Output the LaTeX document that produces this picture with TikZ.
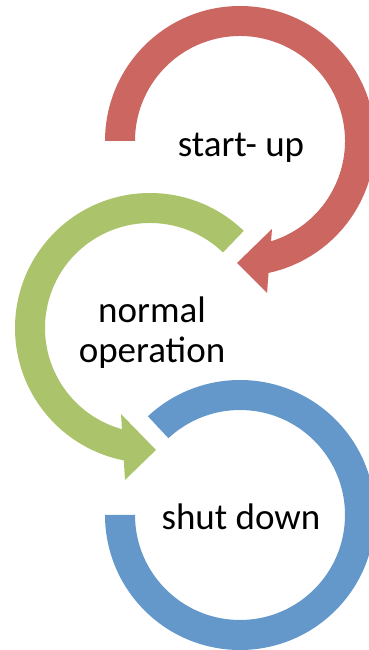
\documentclass[tikz,border=0pt]{standalone}
\usepackage{fontspec}
\setmainfont{Carlito}
\definecolor{ringred}{RGB}{204,102,96}
\definecolor{ringgreen}{RGB}{171,196,108}
\definecolor{ringblue}{RGB}{100,152,202}
\begin{document}
\begin{tikzpicture}[x=1pt,y=1pt,
  lbl/.style={inner sep=0pt, text=black, font=\fontsize{37}{40}\selectfont, align=center}]
\useasboundingbox (0,0) rectangle (369,650);

% start-up: ring opened on the left, arrow head at the bottom
\begin{scope}[shift={(240,509)}]
  \fill[ringred] (180:135) arc[start angle=180, end angle=-77.8, radius=135]
    -- (-79.9:154.4) -- (-91.4:122) -- (-70:93.6)
    -- (-72.8:105) arc[start angle=-72.8, end angle=180, radius=105] -- cycle;
  \coordinate (rc) at (0,0);
\end{scope}

% normal operation: ring opened on the upper right, arrow head at the bottom
\begin{scope}[shift={(150,322)}]
  \fill[ringgreen] (46:135) arc[start angle=46, end angle=258.8, radius=135]
    -- (260.66:154) -- (272.8:122.1) -- (251.4:90.8)
    -- (254.5:105) arc[start angle=254.5, end angle=46, radius=105] -- cycle;
  \coordinate (gc) at (0,0);
\end{scope}

% shut down: plain ring, opened on the upper left
\begin{scope}[shift={(240,135)}]
  \fill[ringblue] (133:135) arc[start angle=133, end angle=-180, radius=135]
    -- (-180:105) arc[start angle=-180, end angle=133, radius=105] -- cycle;
  \coordinate (bc) at (0,0);
\end{scope}

\node[lbl, anchor=base] (startup) at (241,493) {start- up};
\node[lbl] (normalop) at (152,317) {normal\\operation};
\node[lbl, anchor=base] (shutdown) at (241,120) {shut down};
\end{tikzpicture}
\end{document}
